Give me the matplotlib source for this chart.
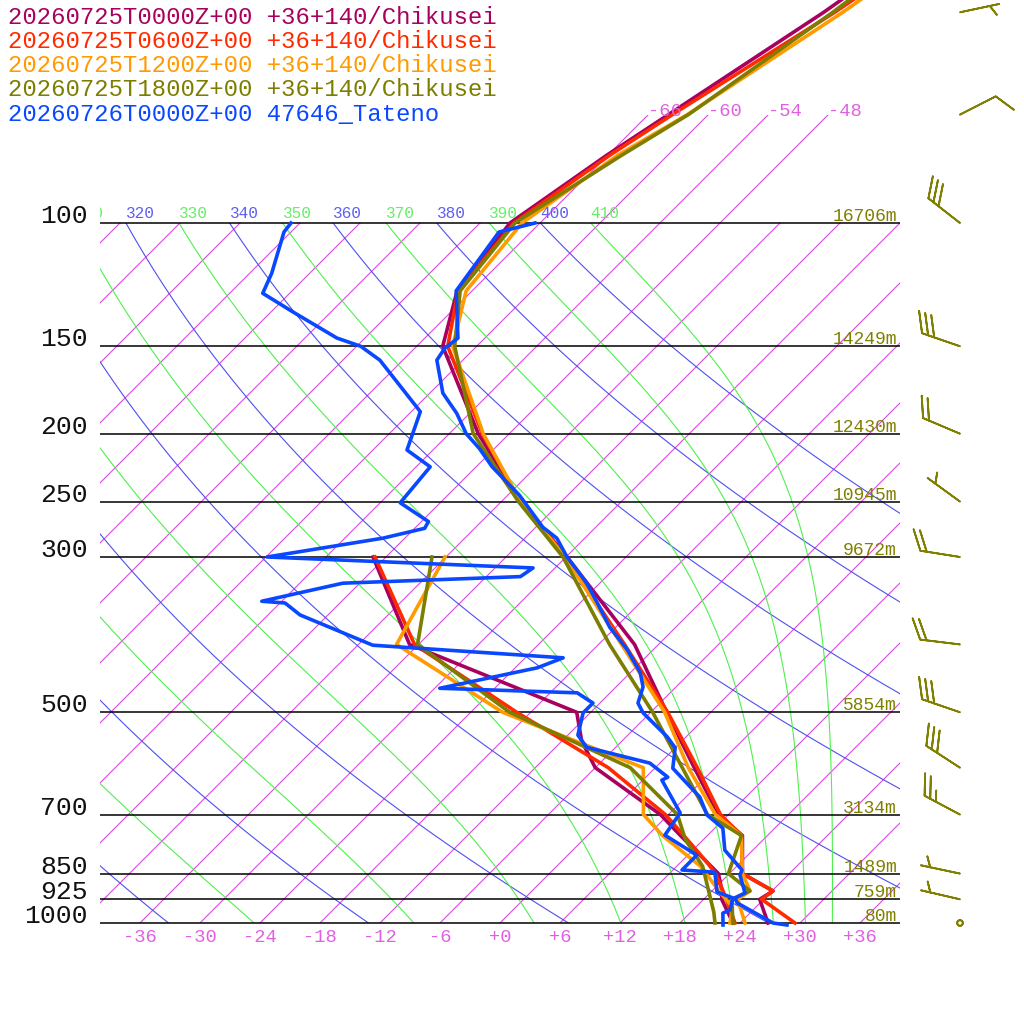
import numpy as np
import matplotlib
matplotlib.use("Agg")
from matplotlib import pyplot as plt
from matplotlib.patches import Rectangle
from matplotlib.transforms import Bbox, TransformedBbox

plt.rcParams.update({"font.family": ["Liberation Mono", "DejaVu Sans Mono"]})

# ---- Chikusei model soundings (+36+140) : temperature ----
t_levels = [1000, 925, 900, 850, 750, 700, 600, 500, 400, 300, 250, 200, 150, 125, 100, 80, 70, 50, 30]
t_00 = [26.8, 23.6, 24.1, 19.3, 15.5, 11.0, 3.9, -4.4, -14.4, -29.9, -40.1, -51.1, -63.4, -67.5, -69.0, -66.1, -64.0, -58.7, -52.3]
t_06 = [29.5, 23.8, 24.1, 19.3, 15.4, 11.2, 4.2, -4.3, -15.4, -30.0, -40.1, -50.7, -62.9, -67.4, -68.6, -65.8, -63.6, -57.6, -50.3]
t_12 = [24.5, 21.4, 21.8, 19.3, 15.4, 10.7, 3.3, -4.6, -15.7, -30.1, -40.1, -50.6, -62.4, -66.6, -67.8, -65.0, -62.1, -56.8, -50.4]
t_18 = [23.3, 20.8, 21.8, 17.9, 15.4, 9.9, 2.7, -5.8, -16.9, -30.3, -40.3, -51.6, -62.2, -67.2, -68.5, -64.6, -62.0, -57.8, -52.6]

# ---- Chikusei model soundings : dew point ----
td_00_p = [1000, 925, 900, 850, 750, 700, 600, 550, 500, 400, 300]
td_00 = [23.3, 19.8, 19.0, 16.9, 9.3, 5.2, -6.0, -10.0, -13.4, -36.9, -49.3]
td_06_p = [1000, 900, 850, 820, 700, 600, 500, 400, 300]
td_06 = [23.5, 19.1, 16.6, 14.7, 5.7, -4.7, -19.4, -36.4, -49.1]
td_12_p = [1000, 950, 900, 830, 750, 700, 600, 500, 400, 300]
td_12 = [23.0, 21.7, 18.7, 14.4, 7.5, 3.5, -1.2, -20.8, -38.2, -42.1]
td_18_p = [1000, 965, 830, 760, 700, 600, 500, 400, 300]
td_18 = [21.5, 20.3, 14.6, 10.2, 6.9, -2.5, -20.1, -36.1, -43.4]

# ---- Tateno radiosonde 47646 ----
tat_t_p = [1006.6, 1000, 936, 921, 906, 854, 840, 787, 732, 701, 661, 601, 562, 542, 501, 485,
           460, 439, 407, 378, 348, 327, 300, 282, 272, 245, 223, 210, 200, 187, 175, 157, 151,
           146, 125, 103, 100]
tat_t = [28.9, 27.3, 21.7, 21.0, 21.5, 19.2, 18.9, 15.2, 12.8, 9.9, 7.4, 1.8, 0.0, -1.9, -6.7, -8.2,
         -9.3, -11.0, -14.6, -18.6, -22.4, -25.3, -29.9, -32.8, -35.3, -40.8, -46.4, -49.5, -52.3,
         -55.3, -58.7, -62.6, -63.0, -62.7, -67.6, -69.2, -66.5]
tat_td_p = [1006.6, 968, 958, 921, 903, 846, 840, 800, 749, 696, 625, 619, 591, 561, 539, 501,
            485, 469, 462, 432, 418, 401, 363, 349, 347, 327, 320, 311, 300, 282, 273, 267, 251,
            223, 211, 186, 157, 150, 146, 134, 126, 118, 103, 100]
tat_td = [22.5, 21.3, 21.7, 20.8, 18.6, 16.4, 12.9, 12.9, 7.7, 7.0, 1.9, 2.2, -1.0, -8.9, -11.0, -12.7,
          -12.7, -15.3, -29.5, -21.8, -20.2, -40.5, -50.8, -53.5, -56.0, -49.7, -32.6, -32.2, -59.9,
          -50.2, -47.0, -47.3, -52.0, -52.6, -56.6, -59.1, -68.3, -71.6, -74.8, -81.8, -86.7, -87.8,
          -90.7, -90.9]

# ---- winds (direction deg, speed kt) ----
wind_p = [50, 70, 100, 150, 200, 250, 300, 400, 500, 600, 700, 850, 925, 1000]
wind_dir = [78, 63, 308, 289, 293, 306, 279, 277, 289, 303, 298, 282, 283, 0]
wind_spd = [5, 10, 30, 30, 20, 5, 20, 20, 30, 30, 25, 5, 5, 0]

# ---- reference levels and heights ----
std_p = [100, 150, 200, 250, 300, 500, 700, 850, 925, 1000]
std_hgt = [16706, 14249, 12430, 10945, 9672, 5854, 3134, 1489, 759, 80]

labels = ["20260725T0000Z+00 +36+140/Chikusei",
          "20260725T0600Z+00 +36+140/Chikusei",
          "20260725T1200Z+00 +36+140/Chikusei",
          "20260725T1800Z+00 +36+140/Chikusei",
          "20260726T0000Z+00 47646_Tateno"]
colors = ["#a8005e", "#ff2a00", "#ff9a00", "#7d7d00", "#0a48ff"]

SKEW = 30.4  # degC per ln(p) unit -> 45 degree isotherms


def skx(t, p):
    return np.asarray(t, dtype=float) + SKEW * np.log(1000.0 / np.asarray(p, dtype=float))


def moist_t(theta_e, p):
    # Bolton (1980) saturated theta-e, solved for T by bisection
    lo = np.full_like(p, 150.0)
    hi = np.full_like(p, 330.0)
    for _ in range(60):
        t = 0.5 * (lo + hi)
        tc = t - 273.15
        es = 6.112 * np.exp(17.67 * tc / (tc + 243.5))
        r = 622.0 * es / (p - es)
        th = t * (1000.0 / p) ** (0.2854 * (1 - 0.28e-3 * r)) * np.exp((3.376 / t - 0.00254) * r * (1 + 0.81e-3 * r))
        hi = np.where(th > theta_e, t, hi)
        lo = np.where(th > theta_e, lo, t)
    return 0.5 * (lo + hi) - 273.15


fig = plt.figure(figsize=(10.24, 10.24), dpi=100)
ax = fig.add_axes([0, 0, 1, 1])
ax.set_yscale("log")
ax.set_xlim(-50, 52.4)
ax.set_ylim(1000 * np.exp(101 / 304), 1000 * np.exp(-923 / 304))
ax.axis("off")

box = Rectangle((-40, 100), 80, 900, transform=ax.transData)
box_iso = Rectangle((-40, 70), 80, 930, transform=ax.transData)
lab_clip = TransformedBbox(Bbox.from_extents(100 / 1024, 0, 1, 1), ax.transAxes)


def adiabat_label(xpos, text, color):
    # labels sit on the 100 hPa line; those left of the frame are cut at its edge
    if xpos < -43:
        return
    txt = ax.text(xpos, 98.5, text, color=color, fontsize=11.6, ha="left", va="baseline")
    txt.set_clip_on(True)
    txt.set_clip_box(lab_clip)


# isotherms
for t in range(-108, 37, 6):
    ptop = 70 if -66 <= t <= -48 else 100
    pp = np.array([1000.0, ptop])
    ln, = ax.plot(skx(t, pp), pp, color="#d84ae0", lw=0.8)
    ln.set_clip_path(box_iso)
    if ptop == 70:
        ax.text(skx(t, 70), 70.4, f"{t:+d}", color="#e060e0", fontsize=13.5,
                ha="left", va="baseline")

pp = np.geomspace(1000, 100, 80)
# dry adiabats
for th in range(240, 401, 20):
    tt = th * (pp / 1000.0) ** 0.2857 - 273.15
    ln, = ax.plot(skx(tt, pp), pp, color="#4f4ff0", lw=0.8)
    ln.set_clip_path(box)
    adiabat_label(skx(tt[-1], 100), str(th), "#5e5ef5")

# moist adiabats
for the in range(250, 411, 20):
    tt = moist_t(the, pp)
    ln, = ax.plot(skx(tt, pp), pp, color="#4fef4f", lw=0.8)
    ln.set_clip_path(box)
    adiabat_label(skx(tt[-1], 100), str(the), "#66ee66")

# pressure levels
ax.hlines(std_p, -40, 40, colors="black", lw=1.1)
for p, h in zip(std_p, std_hgt):
    ax.text(-41.2, p, str(p), fontsize=19, color="#111111", ha="right", va="baseline")
    ax.text(39.7, p * np.exp(-2 / 304), f"{h}m", fontsize=13, color="#808000",
            ha="right", va="baseline")

for t in range(-36, 37, 6):
    ax.text(t, 1000 * np.exp(14 / 304), f"{t:+d}", fontsize=13.5, color="#e060e0",
            ha="center", va="center")

# soundings
t_curves = [t_00, t_06, t_12, t_18]
td_curves = [(td_00_p, td_00), (td_06_p, td_06), (td_12_p, td_12), (td_18_p, td_18)]
for i in range(4):
    ax.plot(skx(t_curves[i], t_levels), t_levels, color=colors[i], lw=2.6)
    ax.plot(skx(td_curves[i][1], td_curves[i][0]), td_curves[i][0], color=colors[i], lw=2.6)
ax.plot(skx(tat_t, tat_t_p), tat_t_p, color=colors[4], lw=2.6)
ax.plot(skx(tat_td, tat_td_p), tat_td_p, color=colors[4], lw=2.6)

# wind barbs
wd = np.radians(wind_dir)
u = -np.array(wind_spd) * np.sin(wd)
v = -np.array(wind_spd) * np.cos(wd)
ax.barbs(np.full(len(wind_p), 46.0), wind_p, u, v, length=7.6, color="#808000",
         linewidth=1.3, sizes=dict(height=0.5, width=0.5, spacing=0.16, emptybarb=0.07))

for i, lab in enumerate(labels):
    ax.text(8 / 1024, 1 - (24.5 + 24 * i) / 1024, lab, color=colors[i], fontsize=17.2,
            ha="left", va="baseline", transform=ax.transAxes)

fig.savefig("out.png", dpi=100)
